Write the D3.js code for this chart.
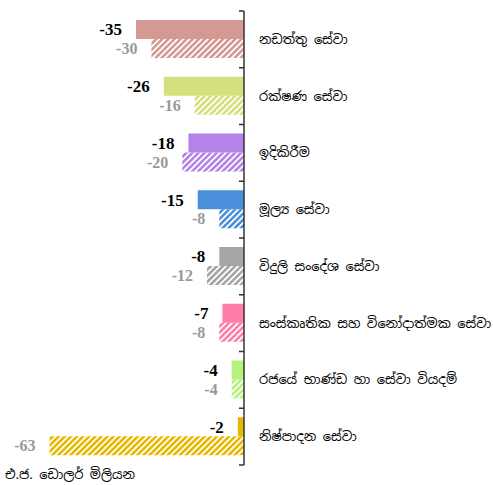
<!DOCTYPE html>
<html>
<head>
<meta charset="utf-8">
<script src="https://cdn.jsdelivr.net/npm/d3@7"></script>
<style>
  body { margin: 0; background: #fff; }
  svg { display: block; }
</style>
</head>
<body>
<div id="chart"></div>
<script>
// categories, top to bottom
var categories = ['නඩත්තු සේවා', 'රක්ෂණ සේවා', 'ඉදිකිරීම', 'මූල්‍ය සේවා',
  'විදුලි සංදේශ සේවා', 'සංස්කෘතික සහ විනෝදාත්මක සේවා', 'රජයේ භාණ්ඩ හා සේවා වියදම්', 'නිෂ්පාදන සේවා'];
var current = [-35, -26, -18, -15, -8, -7, -4, -2];   // solid bars
var previous = [-30, -16, -20, -8, -12, -8, -4, -63]; // hatched bars
var colors = ['#d59994', '#d5e07d', '#b482e8', '#4a90da', '#a6a6a6', '#ff7ea9', '#b4f27c', '#e8b800'];
var unitLabel = 'එ.ජ. ඩොලර් මිලියන';

var width = 493, height = 485;
var axisX = 244;

var svg = d3.select('#chart').append('svg')
  .attr('width', width)
  .attr('height', height);

var x = d3.scaleLinear()
  .domain([-70, 0])
  .range([axisX - 216, axisX]);

var y = d3.scaleBand()
  .domain(categories)
  .range([11, 465]);

// hatch patterns, one per colour
var defs = svg.append('defs');
colors.forEach(function(c, i) {
  var p = defs.append('pattern')
    .attr('id', 'hatch' + i)
    .attr('patternUnits', 'userSpaceOnUse')
    .attr('width', 4.3)
    .attr('height', 4.3)
    .attr('patternTransform', 'rotate(45)');
  p.append('rect')
    .attr('width', 2.6)
    .attr('height', 4.3)
    .attr('fill', c);
});

var barH = 19;
var topPad = 9;

var groups = svg.selectAll('.cat')
  .data(categories)
  .enter().append('g')
  .attr('class', 'cat')
  .attr('transform', function(d) { return 'translate(0,' + y(d) + ')'; });

// solid bars
groups.append('rect')
  .attr('x', function(d, i) { return x(current[i]); })
  .attr('y', topPad)
  .attr('width', function(d, i) { return x(0) - x(current[i]); })
  .attr('height', barH)
  .attr('fill', function(d, i) { return colors[i]; });

// hatched bars
groups.append('rect')
  .attr('x', function(d, i) { return x(previous[i]); })
  .attr('y', topPad + barH)
  .attr('width', function(d, i) { return x(0) - x(previous[i]); })
  .attr('height', barH)
  .attr('fill', function(d, i) { return 'url(#hatch' + i + ')'; });

// value labels
groups.append('text')
  .attr('x', function(d, i) { return x(current[i]) - 14; })
  .attr('y', topPad + barH / 2)
  .attr('dy', '0.35em')
  .attr('text-anchor', 'end')
  .style('font-family', '"Liberation Serif", "Times New Roman", serif')
  .style('font-weight', 'bold')
  .style('font-size', '17px')
  .attr('fill', '#000')
  .text(function(d, i) { return current[i]; });

groups.append('text')
  .attr('x', function(d, i) { return x(previous[i]) - 14; })
  .attr('y', topPad + barH * 1.5)
  .attr('dy', '0.35em')
  .attr('text-anchor', 'end')
  .style('font-family', '"Liberation Serif", "Times New Roman", serif')
  .style('font-weight', 'bold')
  .style('font-size', '16px')
  .attr('fill', '#999')
  .text(function(d, i) { return previous[i]; });

// category labels
groups.append('text')
  .attr('x', axisX + 15)
  .attr('y', y.bandwidth() / 2)
  .attr('dy', '0.35em')
  .style('font-family', '"Noto Sans Sinhala", "Noto Sans", sans-serif')
  .style('font-size', '13px')
  .attr('fill', '#000')
  .text(function(d) { return d; });

// axis line with boundary ticks
svg.append('line')
  .attr('x1', axisX).attr('x2', axisX)
  .attr('y1', 11).attr('y2', 465)
  .attr('stroke', '#333')
  .attr('stroke-width', 1.5);

var bounds = categories.map(function(d) { return y(d); }).concat([465]);
svg.selectAll('.tick')
  .data(bounds)
  .enter().append('line')
  .attr('x1', axisX - 5).attr('x2', axisX)
  .attr('y1', function(d) { return d; })
  .attr('y2', function(d) { return d; })
  .attr('stroke', '#333')
  .attr('stroke-width', 1.5);

svg.append('text')
  .attr('x', 5)
  .attr('y', 474)
  .attr('dy', '0.35em')
  .style('font-family', '"Noto Sans Sinhala", "Noto Sans", sans-serif')
  .style('font-size', '13px')
  .attr('fill', '#000')
  .text(unitLabel);
</script>
</body>
</html>
